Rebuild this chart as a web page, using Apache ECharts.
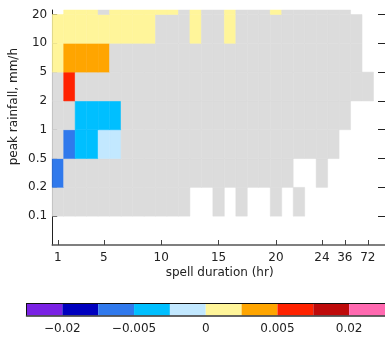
<!DOCTYPE html>
<html>
<head>
<meta charset="utf-8">
<script src="https://cdn.jsdelivr.net/npm/echarts@6/dist/echarts.min.js"></script>
<style>
  html, body { margin: 0; padding: 0; background: #fff; }
  #chart { width: 385px; height: 341px; }
</style>
</head>
<body>
<div id="chart"></div>
<script>
// Spell-duration columns and peak-rainfall bins
const durations = ['1','2','3','4','5','6','7','8','9','10','11','12','13','14','15','16',
                   '17','18','19','20','21','22','23','24','30','36','48','72'];
const durationTicks = ['1','5','10','15','20','24','36','72'];
const rainEdges = ['0.1','0.2','0.5','1','2','5','10','20'];
const rainBins = ['<0.1','0.1-0.2','0.2-0.5','0.5-1','1-2','2-5','5-10','10-20','>20'];

// Duration ranges (first, last) holding spells in each rainfall bin
const sampledSpans = {
  '<0.1':    [],
  '0.1-0.2': [['1','12'], ['15','15'], ['17','17'], ['20','20'], ['22','22']],
  '0.2-0.5': [['1','21'], ['24','24']],
  '0.5-1':   [['1','30']],
  '1-2':     [['1','36']],
  '2-5':     [['1','72']],
  '5-10':    [['1','48']],
  '10-20':   [['1','48']],
  '>20':     [['2','36']]
};

// Significant trends: [duration, rainfall bin, trend]
const trendCells = [
  ['2','>20',0.001], ['3','>20',0.001], ['4','>20',0.001], ['6','>20',0.001],
  ['7','>20',0.001], ['8','>20',0.001], ['9','>20',0.001], ['10','>20',0.001],
  ['11','>20',0.001], ['13','>20',0.001], ['16','>20',0.001], ['20','>20',0.001],
  ['1','10-20',0.001], ['2','10-20',0.001], ['3','10-20',0.001], ['4','10-20',0.001],
  ['5','10-20',0.001], ['6','10-20',0.001], ['7','10-20',0.001], ['8','10-20',0.001],
  ['9','10-20',0.001], ['13','10-20',0.001], ['16','10-20',0.001],
  ['1','5-10',0.001], ['2','5-10',0.003], ['3','5-10',0.003], ['4','5-10',0.003], ['5','5-10',0.003],
  ['2','2-5',0.007],
  ['3','1-2',-0.003], ['4','1-2',-0.003], ['5','1-2',-0.003], ['6','1-2',-0.003],
  ['2','0.5-1',-0.007], ['3','0.5-1',-0.003], ['4','0.5-1',-0.003],
  ['5','0.5-1',-0.001], ['6','0.5-1',-0.001],
  ['1','0.2-0.5',-0.007]
];

// Colour scale
const scaleEdges = [-0.05, -0.02, -0.01, -0.005, -0.002, 0, 0.002, 0.005, 0.01, 0.02, 0.05];
const scaleColors = ['#7a22e4', '#0000be', '#3079ec', '#00bfff', '#c2e8ff',
                     '#fff59a', '#ffa500', '#ff2200', '#be0a0a', '#ff69b0'];
const scaleLabels = ['\u22120.02', '\u22120.005', '0', '0.005', '0.02'];
const scaleLabelEdges = [1, 3, 5, 7, 9];
const noTrendColor = '#dcdcdc';

function colorFor(v) {
  if (v === null) return noTrendColor;
  for (let i = 0; i < scaleColors.length; i++) {
    if (v >= scaleEdges[i] && v < scaleEdges[i + 1]) return scaleColors[i];
  }
  return v < 0 ? scaleColors[0] : scaleColors[scaleColors.length - 1];
}

// Build cell list: [columnIndex, binIndex, trend|null]
const trendLookup = {};
trendCells.forEach(([d, b, v]) => { trendLookup[d + '|' + b] = v; });
const cells = [];
rainBins.forEach((bin, bi) => {
  sampledSpans[bin].forEach(([a, b]) => {
    const i0 = durations.indexOf(a), i1 = durations.indexOf(b);
    for (let i = i0; i <= i1; i++) {
      const key = durations[i] + '|' + bin;
      cells.push([i, bi, key in trendLookup ? trendLookup[key] : null]);
    }
  });
});

// The duration axis runs one spare slot past the last column
const durationSlots = durations.concat(['']);
const isTicked = idx => durationTicks.indexOf(durationSlots[idx]) >= 0;
const rainTickPos = rainEdges.map((e, i) => i + 1);

const font = 'DejaVu Sans';
const chart = echarts.init(document.getElementById('chart'), null, { renderer: 'canvas' });

chart.setOption({
  animation: false,
  backgroundColor: '#fff',
  grid: [
    { left: 52.2, top: 10, width: 335.97, height: 235 },
    { left: 26.5, top: 303.5, width: 360, height: 12 }
  ],
  xAxis: [
    {
      gridIndex: 0, type: 'category', data: durationSlots, boundaryGap: true,
      axisLine: { show: true, lineStyle: { color: '#555', width: 1.5 } },
      axisTick: { show: true, inside: true, length: 5, alignWithLabel: true,
        interval: idx => isTicked(idx), lineStyle: { color: '#444' } },
      axisLabel: { show: true, margin: 7, interval: idx => isTicked(idx),
        fontFamily: font, fontSize: 12, color: '#222' },
      splitLine: { show: false }
    },
    {
      gridIndex: 1, type: 'value', min: 0, max: 10, position: 'bottom',
      axisLine: { show: true, lineStyle: { color: '#333', width: 1.5 } },
      axisTick: { show: false },
      axisLabel: { show: true, margin: 7, fontFamily: font, fontSize: 12, color: '#222',
        customValues: scaleLabelEdges,
        formatter: v => scaleLabels[scaleLabelEdges.indexOf(Math.round(v))] },
      splitLine: { show: false }, z: 5
    },
    {
      gridIndex: 1, type: 'value', min: 0, max: 10, position: 'top',
      axisLine: { show: true, lineStyle: { color: '#111', width: 1 } },
      axisTick: { show: false }, axisLabel: { show: false },
      splitLine: { show: false }, z: 5
    }
  ],
  yAxis: [
    {
      gridIndex: 0, type: 'value', min: 0, max: 8.156, position: 'left',
      axisLine: { show: true, lineStyle: { color: '#222', width: 1 } },
      axisTick: { show: true, inside: true, length: 5, lineStyle: { color: '#222' },
        customValues: rainTickPos },
      axisLabel: { show: true, margin: 5, fontFamily: font, fontSize: 12, color: '#222',
        customValues: rainTickPos,
        formatter: v => rainEdges[Math.round(v) - 1] },
      splitLine: { show: false }
    },
    {
      gridIndex: 0, type: 'value', min: 0, max: 8.156, position: 'right',
      axisLine: { show: true, lineStyle: { color: '#222', width: 1 } },
      axisTick: { show: true, inside: true, length: 7, lineStyle: { color: '#222' },
        customValues: rainTickPos },
      axisLabel: { show: false },
      splitLine: { show: false }
    },
    {
      gridIndex: 1, type: 'value', min: 0, max: 1,
      axisLine: { show: true, lineStyle: { color: '#111', width: 1 } },
      axisTick: { show: false }, axisLabel: { show: false },
      splitLine: { show: false }, z: 5
    }
  ],
  graphic: [
    {
      type: 'text', left: 8, top: 48, rotation: Math.PI / 2,
      style: { text: 'peak rainfall, mm/h', fontFamily: font, fontSize: 12, fill: '#222' }
    },
    {
      type: 'text', x: 219.6, y: 273,
      style: { text: 'spell duration (hr)', fontFamily: font, fontSize: 12, fill: '#222',
        align: 'center', verticalAlign: 'middle' }
    }
  ],
  series: [
    {
      type: 'custom',
      xAxisIndex: 0, yAxisIndex: 0,
      data: cells,
      renderItem: function (params, api) {
        const c = api.value(0), r = api.value(1);
        const w = api.size([1, 0])[0];
        const top = api.coord([c, r + 1]);
        const bot = api.coord([c, r]);
        const rect = echarts.graphic.clipRectByRect(
          { x: top[0] - w / 2, y: top[1], width: w, height: bot[1] - top[1] },
          { x: params.coordSys.x, y: params.coordSys.y,
            width: params.coordSys.width, height: params.coordSys.height });
        if (!rect) return;
        const fill = colorFor(cells[params.dataIndex][2]);
        return { type: 'rect', shape: rect,
          style: { fill: fill, stroke: fill, lineWidth: 0.5 } };
      }
    },
    {
      type: 'custom',
      xAxisIndex: 1, yAxisIndex: 2,
      data: scaleColors.map((c, i) => [i]),
      renderItem: function (params, api) {
        const i = api.value(0);
        const p0 = api.coord([i, 1]);
        const p1 = api.coord([i + 1, 0]);
        return { type: 'rect',
          shape: { x: p0[0], y: p0[1], width: p1[0] - p0[0], height: p1[1] - p0[1] },
          style: { fill: scaleColors[i] } };
      }
    }
  ]
});
</script>
</body>
</html>
